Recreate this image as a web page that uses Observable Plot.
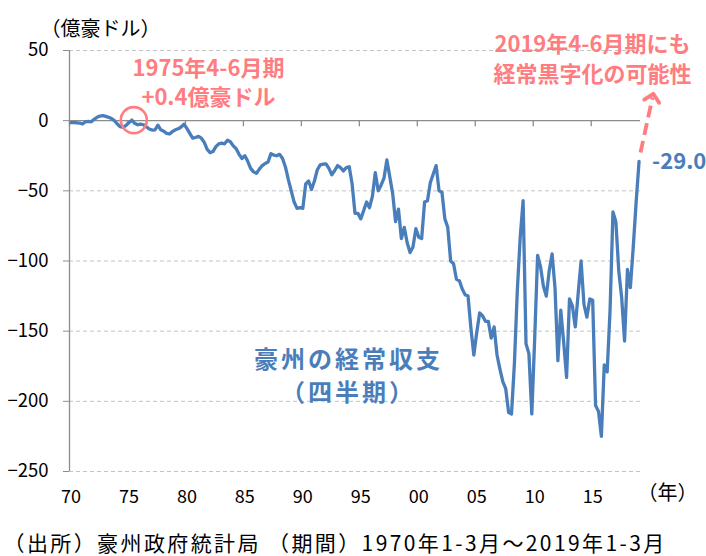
<!DOCTYPE html>
<html><head><meta charset="utf-8">
<script src="https://cdn.jsdelivr.net/npm/d3@7"></script>
<script src="https://cdn.jsdelivr.net/npm/@observablehq/plot@0.6"></script>
<style>
html,body{margin:0;padding:0;background:#fff;}
</style></head><body><div id="chart"></div>
<script>
// Quarterly current account balance of Australia (100 million AUD), 1970Q1 - 2019Q1
const startYear = 1970;
const q1970s = [
  -1.4, -1.4, -1.5, -1.7,   -2.4, -0.8, -0.5, -0.8,   1.0, 2.4, 3.3, 3.6,   3.0, 2.4, 1.5, 0.0,
  -2.4, -4.3, -4.8, -3.3,   -1.5, 0.4, -1.9, -2.9,   -2.4, -2.9, -4.3, -5.9,   -6.7, -6.5, -3.2, -6.5,
  -7.5, -9.0, -9.5, -7.8,   -6.5, -5.8, -4.5, -2.6
];
const q1980s = [
  -5.5, -9.0, -12.5, -12.0,   -11.2, -12.5, -15.5, -20.5,   -22.8, -22.0, -18.5, -16.5,   -16.0, -16.5, -14.0, -15.0,
  -18.0, -20.0, -24.0, -27.0,   -25.0, -29.0, -34.0, -36.5,   -37.5, -34.5, -32.0, -30.5,   -29.5, -23.5, -24.5, -25.0,
  -24.0, -27.0, -33.0, -42.0,   -50.0, -58.0, -62.5, -62.0
];
const q1990s = [
  -62.5, -45.0, -43.0, -49.0,   -43.0, -35.0, -31.5, -31.0,   -30.8, -34.0, -38.5, -35.5,   -32.0, -33.5, -35.8, -33.5,
  -32.8, -45.0, -66.0, -66.0,   -70.0, -64.0, -58.0, -62.0,   -54.0, -37.0, -50.0, -46.0,   -41.0, -28.0, -40.0, -52.0,
  -72.0, -63.0, -84.0, -76.0,   -87.0, -94.0, -90.0, -77.0
];
const q2000s = [
  -83.0, -84.0, -58.0, -57.0,   -44.0, -38.0, -32.0, -50.0,   -51.0, -70.0, -76.0, -100.0,   -102.0, -113.0, -114.0, -120.0,
  -124.0, -125.0, -148.0, -167.0,   -151.0, -137.0, -139.0, -143.0,   -143.0, -155.0, -147.0, -167.0,   -177.0, -186.0, -191.0, -208.0,
  -209.0, -173.0, -121.0, -83.0,   -57.0, -159.0, -166.0, -209.0
];
const q2010s = [
  -155.0, -96.0, -104.0, -118.0,   -125.0, -107.0, -95.0, -119.0,   -171.0, -135.0, -158.0, -183.0,   -127.0, -132.0, -147.0, -123.0,
  -100.0, -131.0, -140.0, -127.0,   -128.0, -203.0, -207.0, -225.0,   -174.0, -179.0, -135.0, -65.0,   -72.0, -107.0, -126.0, -157.0,
  -106.0, -119.0, -90.0, -58.0,   -29.0
];

const yTicks = [50, 0, -50, -100, -150, -200, -250];
const gridValues = [50, -50, -100, -150, -200, -250];
const xLabelYears = [1970, 1975, 1980, 1985, 1990, 1995, 2000, 2005, 2010, 2015];
const xLabelText = ["70", "75", "80", "85", "90", "95", "00", "05", "10", "15"];

const titleText = "（億豪ドル）";
const unitText = "（年）";
const captionText = "（出所）豪州政府統計局 （期間）1970年1-3月～2019年1-3月";

// annotation lines, anchored in data units
const pinkNotes = [
  {text: "1975年4-6月期", t: 1981.86, v: 37.2},
  {text: "+0.4億豪ドル", t: 1981.86, v: 16.5},
  {text: "2019年4-6月期にも", t: 2014.98, v: 53.8},
  {text: "経常黒字化の可能性", t: 2014.98, v: 32.4}
];
const blueNotes = [
  {text: "豪州の経常収支", t: 1993.94, v: -170.9},
  {text: "（四半期）", t: 1993.94, v: -194.4}
];
const arrowSpec = [{t1: 2019.125, v1: -22.7, t2: 2020.16, v2: 16.5}];

const BLUE = "#4a7ebb";
const PINK = "#ff7c80";
const AXIS = "#8c8c8c";
const FONT = "'Noto Sans CJK JP', 'Noto Sans', sans-serif";

const values = [...q1970s, ...q1980s, ...q1990s, ...q2000s, ...q2010s];
const data = values.map((v, i) => ({t: startYear + i / 4, v}));
const halfQ = 0.125;
const xDomain = [data[0].t - halfQ, data[data.length - 1].t + halfQ];
const tickBoundaries = xLabelYears.map(y => y - halfQ);
const circlePoint = [data[21]]; // 1975 Apr-Jun
const lastPoint = [data[data.length - 1]];
const labelMap = new Map(xLabelYears.map((y, i) => [y, xLabelText[i]]));

const chart = Plot.plot({
  width: 706,
  height: 556,
  marginLeft: 69,
  marginRight: 66,
  marginTop: 50,
  marginBottom: 85,
  style: {fontFamily: FONT, fontSize: "17px", background: "#fff", color: "#000"},
  x: {domain: xDomain, label: null},
  y: {domain: [-250, 50], label: null},
  marks: [
    Plot.ruleY(gridValues, {stroke: "#c4c4c4", strokeDasharray: "4,3", strokeWidth: 1}),
    Plot.ruleY([0], {stroke: AXIS, strokeWidth: 1.3}),
    Plot.ruleX([xDomain[0]], {y1: -250, y2: 50, stroke: AXIS, strokeWidth: 1.3}),
    Plot.ruleX(tickBoundaries, {y1: 0, y2: 0, insetBottom: -6, stroke: AXIS, strokeWidth: 1.3}),
    Plot.line(data, {x: "t", y: "v", stroke: BLUE, strokeWidth: 3.3, strokeLinejoin: "round", strokeLinecap: "round"}),
    Plot.dot(circlePoint, {x: "t", y: "v", r: 13, dx: 2, stroke: PINK, strokeWidth: 2.6, fill: "none"}),
    Plot.link(arrowSpec, {x1: "t1", y1: "v1", x2: "t2", y2: "v2", stroke: PINK, strokeWidth: 3.8, strokeDasharray: "12,6", markerEnd: "arrow"}),
    Plot.text(lastPoint, {x: "t", y: "v", text: d => d.v.toFixed(1), dx: 13, dy: 1, textAnchor: "start", fill: BLUE, fontWeight: "bold", fontSize: 22}),
    Plot.text(pinkNotes, {x: "t", y: "v", text: "text", fill: PINK, fontWeight: "bold", fontSize: 22, textAnchor: "middle"}),
    Plot.text(blueNotes, {x: "t", y: "v", text: "text", fill: BLUE, fontWeight: "bold", fontSize: 24, textAnchor: "middle"}),
    Plot.text([titleText], {frameAnchor: "top-left", dx: 31, dy: -29, textAnchor: "middle", fontSize: 20, fill: "#000"}),
    Plot.text([unitText], {frameAnchor: "bottom-right", dx: 27, dy: 28, textAnchor: "middle", fontSize: 20, fill: "#000"}),
    Plot.text([captionText], {frameAnchor: "bottom-left", dx: -66, dy: 79, textAnchor: "start", fontSize: 21, fill: "#000"}),
    Plot.axisY({ticks: yTicks, tickSize: 6, tickPadding: 15, stroke: AXIS, fontSize: 18.5, label: null}),
    Plot.axisX({ticks: xLabelYears, tickSize: 0, tickPadding: 19, tickFormat: d => labelMap.get(d), fontSize: 18, label: null})
  ]
});

const sel = d3.select(chart).selectAll("text");
sel.filter(function() { return this.textContent === "豪州の経常収支" || this.textContent === "（四半期）"; }).attr("letter-spacing", "3px");
sel.filter(function() { return this.textContent.includes("出所"); }).attr("letter-spacing", "2.4px");

document.getElementById("chart").appendChild(chart);
</script></body></html>
